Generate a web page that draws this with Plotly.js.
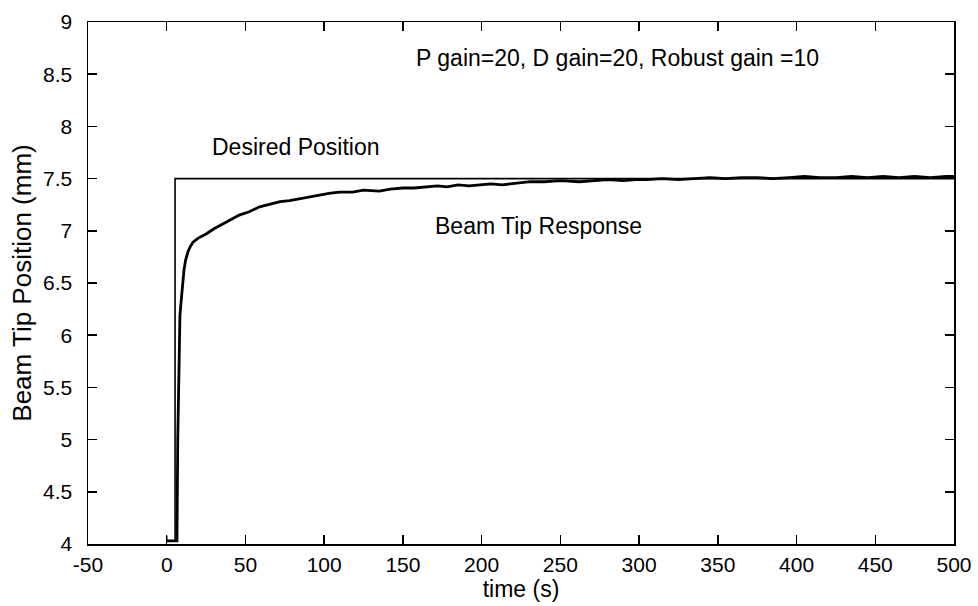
<!DOCTYPE html>
<html>
<head>
<meta charset="utf-8">
<script src="https://cdn.plot.ly/plotly-3.0.1.min.js"></script>
<style>html,body{margin:0;padding:0;background:#fff;}#chart{width:978px;height:606px;}</style>
</head>
<body>
<div id="chart"></div>
<script>
const desiredTime = [0, 0, 5.3, 5.3, 500];
const desiredPos  = [4.08, 4.03, 4.03, 7.5, 7.5];

const responseTime = [0, 6.5, 7, 7.4, 7.8, 8.4, 9, 9.8, 11, 12, 13.5, 15, 16.7, 20, 25, 30, 34, 40, 46, 52, 59, 65, 72, 78, 85, 92, 97, 104, 110, 118, 125, 135, 142, 150, 157, 165, 172, 178, 185, 192, 199, 206, 213, 220, 226, 231, 240, 250, 262, 270, 280, 290, 298, 305, 315, 325, 336, 345, 355, 365, 375, 385, 395, 405, 415, 425, 435, 445, 455, 465, 475, 485, 495, 500];
const responsePos  = [4.03, 4.03, 5.0, 5.5, 5.9, 6.19, 6.3, 6.47, 6.63, 6.72, 6.8, 6.85, 6.89, 6.93, 6.97, 7.02, 7.05, 7.10, 7.15, 7.18, 7.23, 7.25, 7.28, 7.29, 7.31, 7.33, 7.34, 7.36, 7.37, 7.37, 7.39, 7.38, 7.40, 7.41, 7.41, 7.42, 7.43, 7.42, 7.44, 7.43, 7.44, 7.45, 7.44, 7.45, 7.46, 7.47, 7.47, 7.48, 7.47, 7.48, 7.49, 7.48, 7.49, 7.49, 7.50, 7.49, 7.50, 7.51, 7.50, 7.51, 7.51, 7.50, 7.51, 7.52, 7.51, 7.51, 7.52, 7.51, 7.52, 7.51, 7.52, 7.51, 7.52, 7.52];

const xTicks = [-50, 0, 50, 100, 150, 200, 250, 300, 350, 400, 450, 500];
const yTicks = [4, 4.5, 5, 5.5, 6, 6.5, 7, 7.5, 8, 8.5, 9];

const FONT = '"Liberation Sans", Arial, Helvetica, sans-serif';

const traces = [
  {x: desiredTime, y: desiredPos, mode: 'lines', line: {color: '#000', width: 1.6}, hoverinfo: 'skip'},
  {x: responseTime, y: responsePos, mode: 'lines', line: {color: '#000', width: 2.8}, hoverinfo: 'skip'}
];

const axisBase = {
  showgrid: false, zeroline: false, showline: true, linecolor: '#000', linewidth: 1.5,
  mirror: 'ticks', ticks: 'inside', ticklen: 9, tickwidth: 1.5, tickcolor: '#000',
  tickfont: {family: FONT, size: 21, color: '#000'}
};

const layout = {
  width: 978, height: 606,
  margin: {l: 88, r: 24, t: 22, b: 62},
  paper_bgcolor: '#fff', plot_bgcolor: '#fff',
  showlegend: false,
  font: {family: FONT, color: '#000'},
  xaxis: Object.assign({}, axisBase, {
    range: [-50, 500], tickvals: xTicks, ticktext: xTicks.map(String),
    ticklabelstandoff: 1,
    title: {text: 'time (s)', font: {family: FONT, size: 23, color: '#000'}, standoff: 0}
  }),
  yaxis: Object.assign({}, axisBase, {
    range: [4, 9], tickvals: yTicks, ticktext: yTicks.map(String),
    ticklabelstandoff: 10,
    title: {text: 'Beam Tip Position (mm)', font: {family: FONT, size: 26, color: '#000'}, standoff: 4}
  }),
  annotations: [
    {x: 286, y: 8.66, xref: 'x', yref: 'y', text: 'P gain=20, D gain=20, Robust gain =10', showarrow: false, font: {family: FONT, size: 23, color: '#000'}},
    {x: 81.5, y: 7.80, xref: 'x', yref: 'y', text: 'Desired Position', showarrow: false, font: {family: FONT, size: 23, color: '#000'}},
    {x: 236, y: 7.05, xref: 'x', yref: 'y', text: 'Beam Tip Response', showarrow: false, font: {family: FONT, size: 23, color: '#000'}}
  ]
};

Plotly.newPlot('chart', traces, layout, {staticPlot: true, displayModeBar: false});
</script>
</body>
</html>
